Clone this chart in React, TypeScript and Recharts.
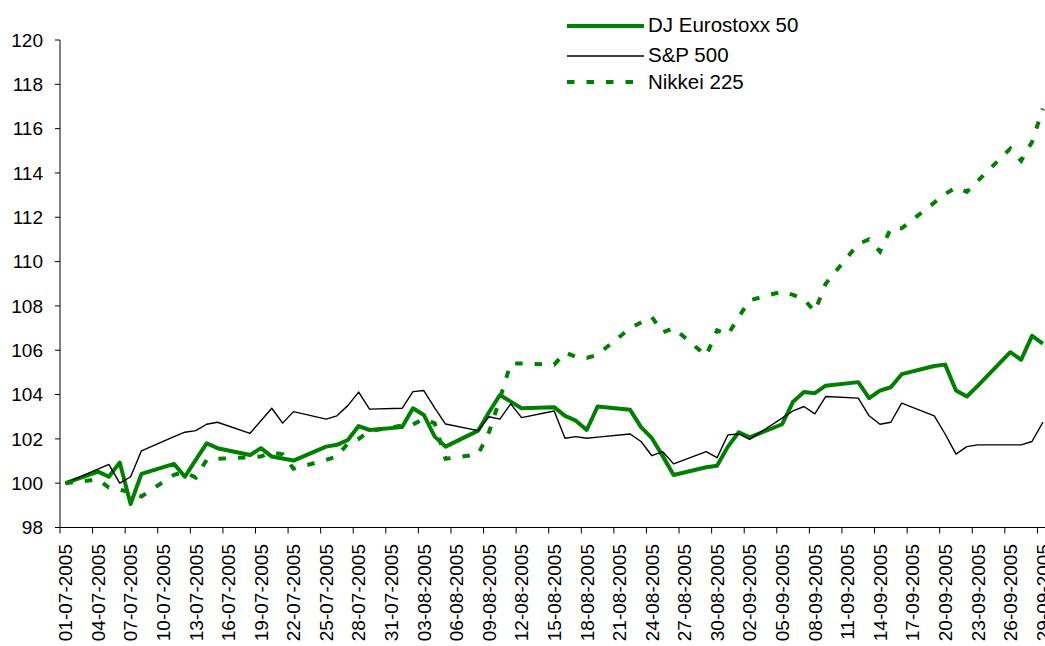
import React from 'react';
import { LineChart, Line, XAxis, YAxis, Legend } from 'recharts';

// ---------- DATA ----------
const tradingDays = [
  '01-07-2005',
  '04-07-2005', '05-07-2005', '06-07-2005', '07-07-2005', '08-07-2005',
  '11-07-2005', '12-07-2005', '13-07-2005', '14-07-2005', '15-07-2005',
  '18-07-2005', '19-07-2005', '20-07-2005', '21-07-2005', '22-07-2005',
  '25-07-2005', '26-07-2005', '27-07-2005', '28-07-2005', '29-07-2005',
  '01-08-2005', '02-08-2005', '03-08-2005', '04-08-2005', '05-08-2005',
  '08-08-2005', '09-08-2005', '10-08-2005', '11-08-2005', '12-08-2005',
  '15-08-2005', '16-08-2005', '17-08-2005', '18-08-2005', '19-08-2005',
  '22-08-2005', '23-08-2005', '24-08-2005', '25-08-2005', '26-08-2005',
  '29-08-2005', '30-08-2005', '31-08-2005', '01-09-2005', '02-09-2005',
  '05-09-2005', '06-09-2005', '07-09-2005', '08-09-2005', '09-09-2005',
  '12-09-2005', '13-09-2005', '14-09-2005', '15-09-2005', '16-09-2005',
  '19-09-2005', '20-09-2005', '21-09-2005', '22-09-2005', '23-09-2005',
  '26-09-2005', '27-09-2005', '28-09-2005', '29-09-2005',
];

const euroStoxx50 = [
  100.0,
  100.52, 100.29, 100.93, 99.06, 100.42,
  100.87, 100.29, 101.05, 101.8, 101.58,
  101.27, 101.58, 101.2, 101.11, 101.02,
  101.65, 101.73, 101.95, 102.58, 102.4,
  102.53, 103.38, 103.08, 102.1, 101.65,
  102.37, 103.2, 103.98, 103.68, 103.38,
  103.43, 103.04, 102.82, 102.4, 103.46,
  103.31, 102.53, 102.03, 101.22, 100.37,
  100.72, 100.79, 101.65, 102.3, 102.07,
  102.66, 103.68, 104.11, 104.06, 104.4,
  104.56, 103.84, 104.18, 104.33, 104.92,
  105.29, 105.35, 104.18, 103.91, 104.39,
  105.91, 105.57, 106.65, 106.3,
];

const sp500 = [
  100.0,
  null, 100.85, 100.0, 100.29, 101.46,
  102.1, 102.3, 102.37, 102.66, 102.75,
  102.25, 102.82, 103.38, 102.71, 103.23,
  102.89, 103.04, 103.5, 104.11, 103.34,
  103.38, 104.13, 104.18, 103.4, 102.67,
  102.37, 103.0, 102.89, 103.58, 102.96,
  103.26, 102.03, 102.1, 102.03, 102.08,
  102.22, 101.88, 101.24, 101.42, 100.87,
  101.42, 101.15, 102.18, 102.22, 101.98,
  null, 103.26, 103.46, 103.13, 103.91,
  103.84, 103.04, 102.66, 102.75, 103.61,
  103.04, 102.22, 101.31, 101.65, 101.73,
  101.73, 101.73, 101.88, 102.75,
];

const nikkei225 = [
  100.0,
  100.17, 99.8, 99.7, 99.6, 99.4,
  100.38, 100.5, 100.25, 101.05, 101.1,
  null, 101.2, 101.38, 101.3, 100.65,
  101.05, 101.2, 101.8, 102.0, 102.35,
  102.6, 102.65, 102.9, 102.7, 101.1,
  101.3, 102.3, 103.8, 105.4, 105.4,
  105.35, 105.9, 105.7, 105.65, 105.8,
  107.0, 107.25, 107.5, 106.8, 107.0,
  105.75, 106.9, 106.7, 107.5, 108.25,
  108.65, 108.5, 108.3, 107.75, 109.0,
  110.8, 111.0, 110.45, 111.5, 111.5,
  null, 113.05, 113.35, 113.15, null,
  115.1, 114.55, 115.4, 116.9,
];

const xTickLabels = [
  '01-07-2005', '04-07-2005', '07-07-2005', '10-07-2005', '13-07-2005', '16-07-2005',
  '19-07-2005', '22-07-2005', '25-07-2005', '28-07-2005', '31-07-2005', '03-08-2005',
  '06-08-2005', '09-08-2005', '12-08-2005', '15-08-2005', '18-08-2005', '21-08-2005',
  '24-08-2005', '27-08-2005', '30-08-2005', '02-09-2005', '05-09-2005', '08-09-2005',
  '11-09-2005', '14-09-2005', '17-09-2005', '20-09-2005', '23-09-2005', '26-09-2005',
  '29-09-2005',
];

const yTicks = [98, 100, 102, 104, 106, 108, 110, 112, 114, 116, 118, 120];

const seriesNames = ['DJ Eurostoxx 50', 'S&P 500', 'Nikkei 225'];

// ---------- LAYOUT / STYLE ----------
const FONT = '"Liberation Sans", Arial, Helvetica, sans-serif';
const GREEN = '#008000';
const CHART_W = 1060;
const CHART_H = 646;
const MARGIN = { top: 40, right: 11.7, bottom: 0, left: 0 };
const YAXIS_W = 60;
const XAXIS_H = 118.5;
const DAYS_SPAN = 91; // calendar days 01-07 .. 29-09 (inclusive)
const PLOT_W = CHART_W - MARGIN.left - MARGIN.right - YAXIS_W;
const HALF_BIN = PLOT_W / DAYS_SPAN / 2;

const START = Date.UTC(2005, 6, 1);
function dayIndex(s: string): number {
  const [d, m, y] = s.split('-').map(Number);
  return Math.round((Date.UTC(y, m - 1, d) - START) / 86400000);
}

const data = tradingDays.map((d, i) => ({
  x: dayIndex(d) + 0.5,
  date: d,
  euro: euroStoxx50[i],
  sp: sp500[i],
  nikkei: nikkei225[i],
}));

const xTicks = xTickLabels.map(dayIndex);
const labelByDay: Record<number, string> = {};
xTickLabels.forEach((l) => {
  labelByDay[dayIndex(l)] = l;
});

const XTick = (props: any) => {
  const { x, y, payload } = props;
  const cx = x + HALF_BIN;
  return (
    <text
      x={cx}
      y={y}
      transform={`rotate(-90, ${cx}, ${y})`}
      textAnchor="end"
      dy="0.36em"
      fontSize={19}
      fontFamily={FONT}
      fill="#000"
    >
      {labelByDay[payload.value]}
    </text>
  );
};

const legendItems = [
  { name: seriesNames[0], color: GREEN, width: 4, dash: undefined as string | undefined, lineY: 26, textY: 32 },
  { name: seriesNames[1], color: '#000000', width: 1.5, dash: undefined as string | undefined, lineY: 56, textY: 62 },
  { name: seriesNames[2], color: GREEN, width: 4, dash: '7.5 12', lineY: 82, textY: 88.5 },
];

const LegendContent = () => (
  <svg width={260} height={100} style={{ display: 'block' }}>
    {legendItems.map((it) => (
      <g key={it.name}>
        <line
          x1={7}
          x2={84}
          y1={it.lineY}
          y2={it.lineY}
          stroke={it.color}
          strokeWidth={it.width}
          strokeDasharray={it.dash}
        />
        <text x={88} y={it.textY} fontSize={20.5} fontFamily={FONT} fill="#000">
          {it.name}
        </text>
      </g>
    ))}
  </svg>
);

export default function App() {
  return (
    <div
      style={{
        position: 'absolute',
        left: 0,
        top: 0,
        width: 1045,
        height: 646,
        overflow: 'hidden',
        background: '#fff',
      }}
    >
      <LineChart width={CHART_W} height={CHART_H} data={data} margin={MARGIN}>
        <XAxis
          dataKey="x"
          type="number"
          domain={[0, DAYS_SPAN]}
          ticks={xTicks}
          interval={0}
          allowDataOverflow
          height={XAXIS_H}
          tickSize={6}
          tickMargin={10.5}
          axisLine={{ stroke: '#000', strokeWidth: 1 }}
          tickLine={{ stroke: '#000', strokeWidth: 1 }}
          tick={<XTick />}
        />
        <YAxis
          type="number"
          domain={[98, 120]}
          ticks={yTicks}
          interval={0}
          allowDataOverflow
          width={YAXIS_W}
          tickSize={5}
          tickMargin={12}
          axisLine={{ stroke: '#000', strokeWidth: 1 }}
          tickLine={{ stroke: '#000', strokeWidth: 1 }}
          tick={{ fill: '#000', fontSize: 19, fontFamily: FONT }}
        />
        <Legend
          layout="vertical"
          align="center"
          verticalAlign="middle"
          wrapperStyle={{ left: 560, top: 0, width: 260, height: 100 }}
          content={<LegendContent />}
        />
        <Line
          name={seriesNames[0]}
          type="linear"
          dataKey="euro"
          stroke={GREEN}
          strokeWidth={4}
          strokeLinejoin="round"
          dot={false}
          activeDot={false}
          connectNulls
          isAnimationActive={false}
        />
        <Line
          name={seriesNames[1]}
          type="linear"
          dataKey="sp"
          stroke="#000000"
          strokeWidth={1.4}
          strokeLinejoin="round"
          dot={false}
          activeDot={false}
          connectNulls
          isAnimationActive={false}
        />
        <Line
          name={seriesNames[2]}
          type="linear"
          dataKey="nikkei"
          stroke={GREEN}
          strokeWidth={4}
          strokeDasharray="7.5 12"
          dot={false}
          activeDot={false}
          connectNulls
          isAnimationActive={false}
        />
      </LineChart>
    </div>
  );
}
